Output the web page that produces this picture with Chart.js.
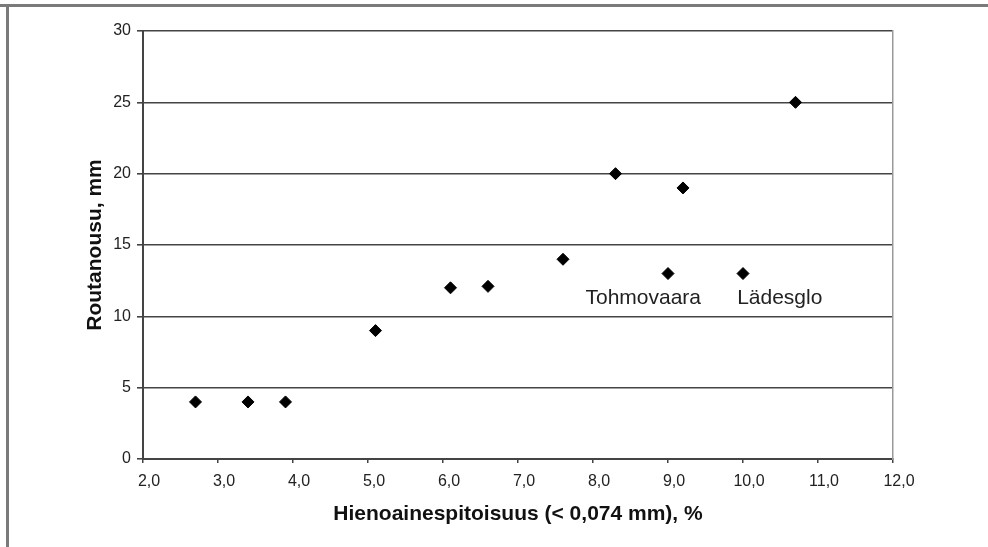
<!DOCTYPE html>
<html>
<head>
<meta charset="utf-8">
<script src="https://cdn.jsdelivr.net/npm/chart.js@4/dist/chart.umd.min.js"></script>
<style>
  html, body { margin: 0; padding: 0; background: #fff; }
  canvas { display: block; }
</style>
</head>
<body>
<canvas id="c" width="988" height="547"></canvas>
<script>
// ---- data ----
const fineContent = [2.7, 3.4, 3.9, 5.1, 6.1, 6.6, 7.6, 8.3, 9.0, 9.2, 10.0, 10.7];
const frostHeave  = [4, 4, 4, 9, 12, 12.1, 14, 20, 13, 19, 13, 25];
const xTickLabels = ['2,0','3,0','4,0','5,0','6,0','7,0','8,0','9,0','10,0','11,0','12,0'];
const yTickLabels = ['0','5','10','15','20','25','30'];
const noteTexts = ['Tohmovaara', 'Lädesglo'];
const noteX = [8.67, 10.49];
const noteY = [11.3, 11.3];
const xTitle = 'Hienoainespitoisuus (< 0,074 mm), %';
const yTitle = 'Routanousu, mm';

const FONT = '"Liberation Sans", Arial, sans-serif';

const framePlugin = {
  id: 'frame',
  beforeDraw(chart) {
    const ctx = chart.ctx;
    ctx.save();
    ctx.fillStyle = '#fff';
    ctx.fillRect(0, 0, chart.width, chart.height);
    ctx.fillStyle = '#7a7a7a';
    ctx.fillRect(0, 4, chart.width, 3);
    ctx.fillRect(6, 4, 3, chart.height - 4);
    ctx.restore();
  }
};

const notesPlugin = {
  id: 'notes',
  afterDatasetsDraw(chart) {
    const ctx = chart.ctx;
    const xs = chart.scales.x, ys = chart.scales.y;
    ctx.save();
    ctx.font = '21px ' + FONT;
    ctx.fillStyle = '#222';
    ctx.textAlign = 'center';
    ctx.textBaseline = 'middle';
    noteTexts.forEach((t, i) => {
      ctx.fillText(t, xs.getPixelForValue(noteX[i]), ys.getPixelForValue(noteY[i]));
    });
    ctx.restore();
  }
};

new Chart(document.getElementById('c'), {
  type: 'scatter',
  data: {
    datasets: [{
      data: fineContent.map((x, i) => ({ x: x, y: frostHeave[i] })),
      pointStyle: 'rectRot',
      pointRadius: 6,
      pointBorderWidth: 1,
      backgroundColor: '#000',
      borderColor: '#000'
    }]
  },
  options: {
    responsive: false,
    animation: false,
    devicePixelRatio: 1,
    layout: { padding: { left: 83, top: 31, right: 95, bottom: 20 } },
    plugins: { legend: { display: false }, tooltip: { enabled: false } },
    scales: {
      x: {
        type: 'linear',
        min: 2, max: 12,
        afterFit: s => { s.height = 68; },
        ticks: {
          stepSize: 1,
          padding: 9,
          labelOffset: 6,
          color: '#222',
          font: { family: FONT, size: 16 },
          maxRotation: 0,
          callback: (v) => xTickLabels[Math.round(v - 2)]
        },
        grid: { drawOnChartArea: false, drawTicks: true, tickLength: 4, color: '#444', lineWidth: 1.5 },
        border: { display: true, color: '#444', width: 2 },
        title: {
          display: true, text: xTitle, color: '#111', padding: 0,
          font: { family: FONT, size: 21, weight: 'bold' }
        }
      },
      y: {
        type: 'linear',
        min: 0, max: 30,
        afterFit: s => { s.width = 60; },
        ticks: {
          stepSize: 5,
          padding: 6,
          color: '#222',
          font: { family: FONT, size: 16 },
          callback: (v) => yTickLabels[Math.round(v / 5)]
        },
        grid: { drawOnChartArea: true, drawTicks: true, tickLength: 6, color: '#444', lineWidth: 1.6 },
        border: { display: true, color: '#444', width: 2 },
        title: {
          display: true, text: yTitle, color: '#111', padding: 0,
          font: { family: FONT, size: 21, weight: 'bold' }
        }
      },
      y2: {
        type: 'linear',
        position: 'right',
        min: 0, max: 30,
        afterFit: s => { s.width = 0; },
        ticks: { display: false },
        grid: { drawOnChartArea: false, drawTicks: false },
        border: { display: true, color: '#999', width: 1.5 }
      }
    }
  },
  plugins: [framePlugin, notesPlugin]
});
</script>
</body>
</html>
